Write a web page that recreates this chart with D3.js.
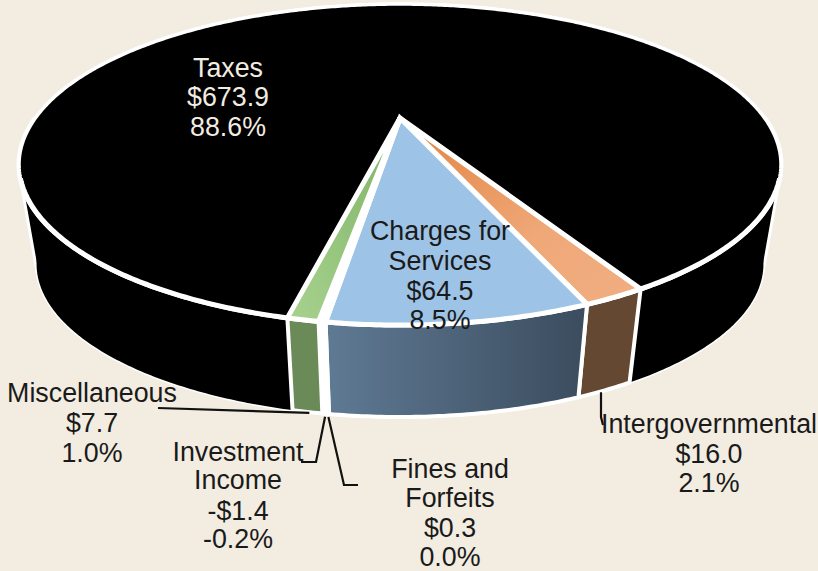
<!DOCTYPE html>
<html><head><meta charset="utf-8">
<style>html,body{margin:0;padding:0;background:#F2ECE1}svg{display:block}text{font-family:"Liberation Sans",Arial,sans-serif}</style>
<script src="https://cdn.jsdelivr.net/npm/d3@7/dist/d3.min.js"></script>
</head><body><svg id="c" width="818" height="571"></svg>
<script>
(function(){
// ---- data (clockwise order from the Taxes slice)
const categories = ["Taxes","Intergovernmental","Charges for Services","Fines and Forfeits","Investment Income","Miscellaneous"];
const amounts    = [673.9, 16.0, 64.5, 0.3, -1.4, 7.7];
const shares     = ["88.6%","2.1%","8.5%","0.0%","-0.2%","1.0%"];
const amountText = ["$673.9","$16.0","$64.5","$0.3","-$1.4","$7.7"];
const topColors  = ["#000000","url(#gOrange)","#9DC3E6","#FFFFFF","#FFFFFF","url(#gGreen)"];
const wallColors = ["#000000","#644832","url(#gBlue)","#FFFFFF","#FFFFFF","#6A8A58"];

// ---- layout
const W=818,H=571;
const apex={x:400,y:118}, A=364.6, B=147, K=0.29, V={x:400,y:2324}, T=0.046;
const START=192.8*Math.PI/180;
const svg=d3.select("#c");
const defs=svg.append("defs");
function grad(id,x1,y1,x2,y2,stops){
  const g=defs.append("linearGradient").attr("id",id).attr("x1",x1).attr("y1",y1).attr("x2",x2).attr("y2",y2);
  stops.forEach(([o,c])=>g.append("stop").attr("offset",o).attr("stop-color",c));
}
grad("gBlue",0,0,1,0,[[0,"#5F7A94"],[1,"#3B4C5E"]]);
grad("gOrange",0,0,1,1,[[0,"#E2833F"],[0.6,"#EFA878"],[1,"#F1AE82"]]);
grad("gGreen",1,0,0,1,[[0,"#7DB364"],[1,"#A8D28F"]]);
svg.append("rect").attr("width",W).attr("height",H).attr("fill","#F2ECE1");

const TAU=2*Math.PI;
const arcs=d3.pie().sort(null).value(d=>Math.abs(d)).startAngle(START).endAngle(START+TAU)(amounts);
// perspective projection of the disc
function rim(t){const s=Math.sin(t),c=Math.cos(t),w=1+K*c;return [apex.x+A*s/w,apex.y-B*c/w];}
function bot(t){const [x,y]=rim(t);return [x+(V.x-x)*T,y+(V.y-y)*T];}
const angles=(a,b)=>{const n=Math.max(2,Math.ceil((b-a)/0.01));return d3.range(n+1).map(i=>a+(b-a)*i/n);};
const line=d3.line();

// silhouette of the Taxes slice, behind everything
const circle=angles(0,TAU);
const hull=d3.polygonHull(circle.map(rim).concat(circle.map(bot)));
svg.append("path").attr("d",line(hull)+"Z").attr("fill",wallColors[0])
  .attr("stroke","#fff").attr("stroke-width",3).attr("stroke-linejoin","round");

// walls
const wg=svg.append("g");
arcs.forEach((d,i)=>{
  [0,1].forEach(k=>{
    const lo=Math.max(d.startAngle,Math.PI/2+k*TAU), hi=Math.min(d.endAngle,1.5*Math.PI+k*TAU);
    if(hi<=lo) return;
    const as=angles(lo,hi);
    const pts=as.map(rim).concat(as.slice().reverse().map(bot));
    wg.append("path").attr("d",line(pts)+"Z").attr("fill",wallColors[i])
      .attr("stroke",i===0?"none":"#fff").attr("stroke-width",4).attr("stroke-linejoin","round");
    // thicker white edge where the top face meets the wall
    wg.append("path").attr("d",line(as.map(rim))).attr("fill","none").attr("stroke","#fff").attr("stroke-width",5);
  });
});
// top faces
const tg=svg.append("g");
arcs.forEach((d,i)=>{
  const pts=[[apex.x,apex.y]].concat(angles(d.startAngle,d.endAngle).map(rim));
  tg.append("path").attr("d",line(pts)+"Z").attr("fill",topColors[i])
    .attr("stroke","#fff").attr("stroke-width",i===0?3.5:5).attr("stroke-linejoin","miter");
});
// near rim of the Taxes slice sits above its own top face
arcs.slice(0,1).forEach(d=>{
  [0,1].forEach(k=>{
    const lo=Math.max(d.startAngle,Math.PI*0.62+k*TAU), hi=Math.min(d.endAngle,1.38*Math.PI+k*TAU);
    if(hi>lo) tg.append("path").attr("d",line(angles(lo,hi).map(rim))).attr("fill","none").attr("stroke","#fff").attr("stroke-width",5);
  });
});

// leader lines
const mid=d=>(d.startAngle+d.endAngle)/2;
const leaders=[
  {i:5,path:a=>[[a[0]+2,a[1]+1],[158,408]]},
  {i:4,path:a=>[[a[0],a[1]+3],[316,462],[301,462]]},
  {i:3,path:a=>[[a[0],a[1]+3],[344,485],[358,485]]},
  {i:1,path:a=>[[601,a[1]+2],[601,417],[603,425]]}
];
const lg=svg.append("g");
leaders.forEach(l=>{
  const p=l.path(bot(mid(arcs[l.i])));
  lg.append("path").attr("d",line(p)).attr("fill","none").attr("stroke","#111").attr("stroke-width",2.2);
});

// labels
const labels=[
 {i:0,x:228,y:[77,106,136],color:"#F2ECE1",name:["Taxes"]},
 {i:1,x:709,y:[433,463,492],color:"#1a1a1a",name:["Intergovernmental"]},
 {i:2,x:440,y:[240,270,300,329],color:"#1a1a1a",name:["Charges for","Services"]},
 {i:3,x:450,y:[478,507,537,566],color:"#1a1a1a",name:["Fines and","Forfeits"]},
 {i:4,x:238,y:[461,489,520,548],color:"#1a1a1a",name:["Investment","Income"]},
 {i:5,x:92,y:[402,432,462],color:"#1a1a1a",name:["Miscellaneous"]}
];
const txt=svg.append("g").attr("text-anchor","middle").attr("font-size",26.8);
labels.forEach(l=>{
  l.name.concat([amountText[l.i],shares[l.i]]).forEach((s,j)=>{
    txt.append("text").attr("x",l.x).attr("y",l.y[j]).attr("fill",l.color).text(s);
  });
});
})();
</script></body></html>
